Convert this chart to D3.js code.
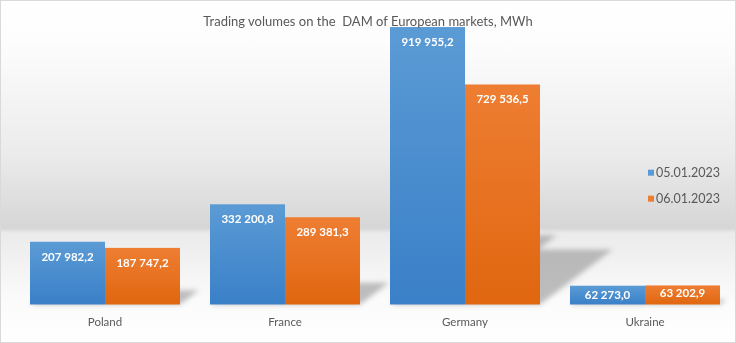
<!DOCTYPE html>
<html><head><meta charset="utf-8">
<script src="https://cdn.jsdelivr.net/npm/d3@7"></script>
<style>
html,body{margin:0;padding:0;background:#fff;}
svg{display:block;font-family:Lato,"Open Sans",sans-serif;}
</style></head>
<body>
<svg id="chart" width="736" height="343"></svg>
<script>
const title = "Trading volumes on the  DAM of European markets, MWh";
const categories = ["Poland", "France", "Germany", "Ukraine"];
const seriesNames = ["05.01.2023", "06.01.2023"];
const series1 = [207982.2, 332200.8, 919955.2, 62273.0];
const series2 = [187747.2, 289381.3, 729536.5, 63202.9];
const yDomain = [0, 1000000];

const W = 736, H = 343;
const svg = d3.select("#chart");
const defs = svg.append("defs");

// background gradient (wall + floor)
const bg = defs.append("linearGradient").attr("id","bg").attr("x1",0).attr("y1",0).attr("x2",0).attr("y2",1);
[[0,"#ffffff"],[0.12,"#fdfdfd"],[0.45,"#ebebeb"],[0.665,"#d6d6d6"],[0.68,"#ebebeb"],[0.88,"#fbfbfb"],[1,"#ffffff"]]
  .forEach(([o,c])=>bg.append("stop").attr("offset",o).attr("stop-color",c));
svg.append("rect").attr("x",0.5).attr("y",0.5).attr("width",W-1).attr("height",H-1)
  .attr("fill","url(#bg)").attr("stroke","#d9d9d9");

const gBlue = defs.append("linearGradient").attr("id","gBlue").attr("x1",0).attr("y1",0).attr("x2",0).attr("y2",1);
gBlue.append("stop").attr("offset",0).attr("stop-color","#5b9bd5");
gBlue.append("stop").attr("offset",1).attr("stop-color","#3a80c8");
const gOr = defs.append("linearGradient").attr("id","gOr").attr("x1",0).attr("y1",0).attr("x2",0).attr("y2",1);
gOr.append("stop").attr("offset",0).attr("stop-color","#ee7e33");
gOr.append("stop").attr("offset",1).attr("stop-color","#e0660f");
const fills = ["url(#gBlue)","url(#gOr)"];
const legendColors = ["#5b9bd5","#ed7d31"];

const blur = defs.append("filter").attr("id","blur").attr("x","-20%").attr("y","-20%").attr("width","140%").attr("height","140%");
blur.append("feGaussianBlur").attr("stdDeviation",2.5);

const x0 = d3.scaleBand().domain(categories).range([15, 735]).paddingInner(1/6).paddingOuter(1/12);
const x1 = d3.scaleBand().domain([0,1]).range([0, x0.bandwidth()]);
const y = d3.scaleLinear().domain(yDomain).range([304.5, 2.9]);

const fmt = d3.formatLocale({decimal:",", thousands:" ", grouping:[3], currency:["",""]}).format(",.1f");

const data = [];
categories.forEach((c,i)=>{
  [series1[i], series2[i]].forEach((v,s)=>data.push({c, s, v}));
});

// shadows
const shadowG = svg.append("g").attr("filter","url(#blur)");
shadowG.selectAll("path").data(data).join("path")
  .attr("d", d=>{
    const xa = x0(d.c)+x1(d.s), xb = xa + x1.bandwidth();
    const base = y(0), h = y(0)-y(d.v);
    const dx = 0.33*h, dy = 0.25*h;
    return `M${xa},${base}L${xb},${base}L${xb+dx},${base-dy}L${xa+dx},${base-dy}Z`;
  })
  .attr("fill","#8a8a8a").attr("opacity",0.55);

// bars
svg.append("g").selectAll("rect").data(data).join("rect")
  .attr("x", d=>x0(d.c)+x1(d.s))
  .attr("width", x1.bandwidth())
  .attr("y", d=>y(d.v))
  .attr("height", d=>y(0)-y(d.v))
  .attr("fill", d=>fills[d.s]);

// value labels
svg.append("g").selectAll("text").data(data).join("text")
  .attr("x", d=>x0(d.c)+x1(d.s)+x1.bandwidth()/2)
  .attr("y", d=>Math.min(y(d.v)+15, (y(d.v)+y(0))/2 - (d.s===1?1.5:0)))
  .attr("dy","0.35em")
  .attr("text-anchor","middle")
  .attr("fill","#ffffff").attr("font-weight","bold").attr("font-size","11.5px")
  .text(d=>fmt(d.v));

// category axis labels
svg.append("g").selectAll("text").data(categories).join("text")
  .attr("x", d=>x0(d)+x0.bandwidth()/2)
  .attr("y", 322).attr("dy","0.35em")
  .attr("text-anchor","middle").attr("fill","#595959").attr("font-size","11.5px")
  .text(d=>d);

// title
svg.append("text").attr("x", 368).attr("y", 21).attr("dy","0.35em")
  .attr("text-anchor","middle").attr("fill","#595959").attr("font-size","13px")
  .attr("xml:space","preserve").style("white-space","pre")
  .text(title);

// legend
const lg = svg.append("g").selectAll("g").data(seriesNames).join("g")
  .attr("transform",(d,i)=>`translate(648,${172.7+26*i})`);
lg.append("rect").attr("x",0).attr("y",-3).attr("width",6).attr("height",6).attr("fill",(d,i)=>legendColors[i]);
lg.append("text").attr("x",8).attr("y",0).attr("dy","0.35em").attr("fill","#595959").attr("font-size","12.5px").text(d=>d);
</script>
</body></html>
